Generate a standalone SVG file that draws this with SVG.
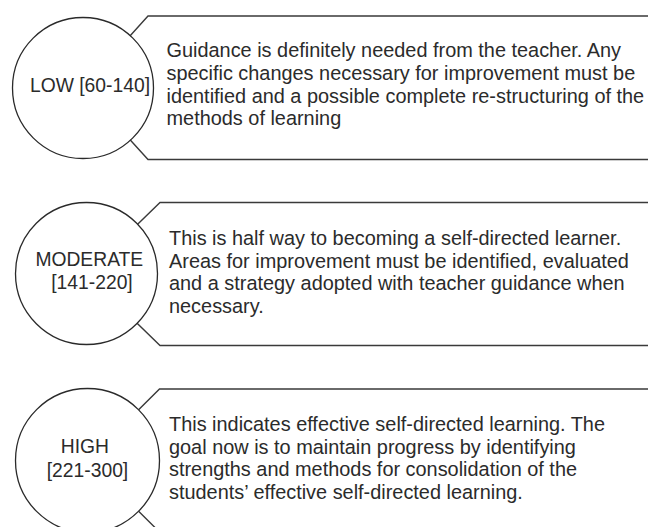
<svg xmlns="http://www.w3.org/2000/svg" width="648" height="527" viewBox="0 0 648 527">
  <style>
    .callout { fill: #ffffff; stroke: #3a3a3a; stroke-width: 1.4; stroke-linejoin: miter; }
    .level { fill: #ffffff; stroke: #2a2a2a; stroke-width: 1.3; }
    .label { font-family: "Liberation Sans", Arial, sans-serif; font-size: 19.3px; fill: #2b2b2b; text-anchor: middle; }
    .body { font-family: "Liberation Sans", Arial, sans-serif; font-size: 19.9px; fill: #2b2b2b; }
  </style>
  <rect width="648" height="527" fill="#ffffff"/>

  <!-- Low band -->
  <g id="low">
    <path class="callout" d="M 652 16 H 148 L 83 88 L 148 159.5 H 652"/>
    <circle class="level" cx="83" cy="88" r="70.5"/>
    <text class="label" x="90" y="92">LOW [60-140]</text>
    <text class="body">
      <tspan x="166.5" y="57">Guidance is definitely needed from the teacher. Any</tspan>
      <tspan x="166.5" y="79.8">specific changes necessary for improvement must be</tspan>
      <tspan x="166.5" y="102.6">identified and a possible complete re-structuring of the</tspan>
      <tspan x="166.5" y="125.4">methods of learning</tspan>
    </text>
  </g>

  <!-- Moderate band -->
  <g id="moderate">
    <path class="callout" d="M 652 202.5 H 160 L 86.5 274 L 160 345.5 H 652"/>
    <circle class="level" cx="86.5" cy="273.5" r="71"/>
    <text class="label">
      <tspan x="92" y="266">MODERATE</tspan>
      <tspan x="92" y="289">[141-220]</tspan>
    </text>
    <text class="body">
      <tspan x="169" y="245">This is half way to becoming a self-directed learner.</tspan>
      <tspan x="169" y="267.6">Areas for improvement must be identified, evaluated</tspan>
      <tspan x="169" y="290.2">and a strategy adopted with teacher guidance when</tspan>
      <tspan x="169" y="312.8">necessary.</tspan>
    </text>
  </g>

  <!-- High band -->
  <g id="high">
    <path class="callout" d="M 652 389 H 159.5 L 87.5 460.5 L 159.5 532 H 652"/>
    <circle class="level" cx="87.5" cy="460.5" r="72"/>
    <text class="label">
      <tspan x="87.5" y="453">HIGH</tspan>
      <tspan x="87.5" y="476.5">[221-300]</tspan>
    </text>
    <text class="body">
      <tspan x="169" y="431">This indicates effective self-directed learning. The</tspan>
      <tspan x="169" y="453.5">goal now is to maintain progress by identifying</tspan>
      <tspan x="169" y="476">strengths and methods for consolidation of the</tspan>
      <tspan x="169" y="498.5">students’ effective self-directed learning.</tspan>
    </text>
  </g>

  <g id="connectors"/>
</svg>
